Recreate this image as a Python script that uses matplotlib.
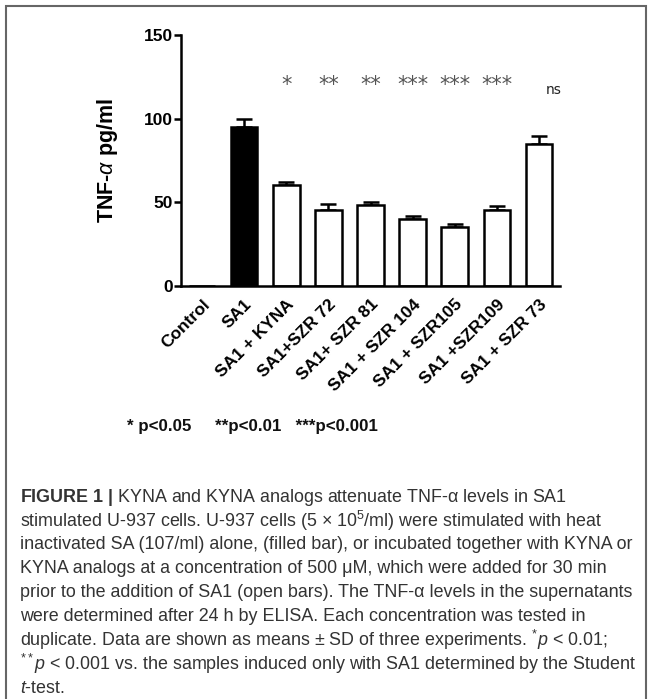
import matplotlib
matplotlib.use('Agg')
import matplotlib.pyplot as plt
from matplotlib.patches import Rectangle

plt.rcParams['font.family'] = ['Liberation Sans', 'DejaVu Sans']
plt.rcParams['mathtext.fontset'] = 'custom'
plt.rcParams['mathtext.rm'] = 'Liberation Sans'
plt.rcParams['mathtext.it'] = 'Liberation Sans:italic'
plt.rcParams['mathtext.bf'] = 'Liberation Sans:bold'

# data
groups = ['Control', 'SA1', 'SA1 + KYNA', 'SA1+SZR 72', 'SA1+ SZR 81',
          'SA1 + SZR 104', 'SA1 + SZR105', 'SA1 +SZR109', 'SA1 + SZR 73']
means = [0, 95, 60, 45.5, 48, 40, 35, 45.5, 85]
sd = [0, 5, 2.2, 3.6, 2.2, 2.0, 2.0, 2.0, 4.6]
fills = ['white', 'black', 'white', 'white', 'white', 'white', 'white', 'white', 'white']
signif = ['', '', '*', '**', '**', '***', '***', '***', 'ns']

caption = [
    r'$\mathbf{FIGURE\ 1\ |}$ KYNA and KYNA analogs attenuate TNF-α levels in SA1',
    r'stimulated U-937 cells. U-937 cells (5 × 10$^{5}$/ml) were stimulated with heat',
    'inactivated SA (107/ml) alone, (filled bar), or incubated together with KYNA or',
    'KYNA analogs at a concentration of 500 μM, which were added for 30 min',
    'prior to the addition of SA1 (open bars). The TNF-α levels in the supernatants',
    'were determined after 24 h by ELISA. Each concentration was tested in',
    r'duplicate. Data are shown as means ± SD of three experiments. $^{*}p$ < 0.01;',
    r'$^{**}p$ < 0.001 vs. the samples induced only with SA1 determined by the Student',
    r'$t$-test.',
]

W, H = 652, 699
fig = plt.figure(figsize=(W / 100, H / 100), dpi=100)
ax = fig.add_axes([181 / W, 1 - 285.7 / H, 379 / W, 250.7 / H])

x = list(range(len(groups)))
ax.bar(x, means, width=0.63, color=fills, edgecolor='black', linewidth=1.8, zorder=2)
for i in x:
    if sd[i] > 0:
        ax.errorbar(i, means[i], yerr=[[0], [sd[i]]], fmt='none', ecolor='black',
                    elinewidth=1.8, capsize=5.5, capthick=1.8, zorder=1)

for i, s in enumerate(signif):
    if s == 'ns':
        ax.text(i + 0.35, 117, s, ha='center', va='center', fontsize=10,
                color='#222', family='DejaVu Sans')
    elif s:
        ax.text(i, 120, s, ha='center', va='center', fontsize=15, color='#555',
                family='DejaVu Sans')

ax.set_xlim(-0.5, 8.5)
ax.set_ylim(0, 150)
ax.set_yticks([0, 50, 100, 150])
ax.set_xticks(x)
ax.set_xticklabels(groups, rotation=45, ha='right', rotation_mode='anchor',
                   fontsize=12.5, fontweight='bold')
for lab in ax.get_yticklabels():
    lab.set_fontweight('bold')
ax.tick_params(axis='y', length=5, width=1.8, labelsize=12.5, pad=1)
ax.tick_params(axis='x', length=0, pad=8)
ax.spines['top'].set_visible(False)
ax.spines['right'].set_visible(False)
ax.spines['left'].set_linewidth(1.8)
ax.spines['bottom'].set_linewidth(1.8)
ax.set_ylabel(r'TNF-$\alpha$ pg/ml', fontsize=15.5, fontweight='bold')
ax.yaxis.set_label_coords(-0.16, 0.5)

fig.text(127 / W, 1 - 427 / H, '* p<0.05     **p<0.01   ***p<0.001',
         fontsize=12.2, fontweight='bold', va='center', color='#111')

y0 = 497
for k, line in enumerate(caption):
    fig.text(20 / W, 1 - (y0 + k * 23.9) / H, line, fontsize=12.9,
             va='center', ha='left', color='#333')

fig.add_artist(Rectangle((6 / W, -0.05), 640 / W, 1.05 - 6 / H,
                         transform=fig.transFigure, fill=False,
                         edgecolor='#666', linewidth=1.5))

fig.savefig('out.png', dpi=100)
